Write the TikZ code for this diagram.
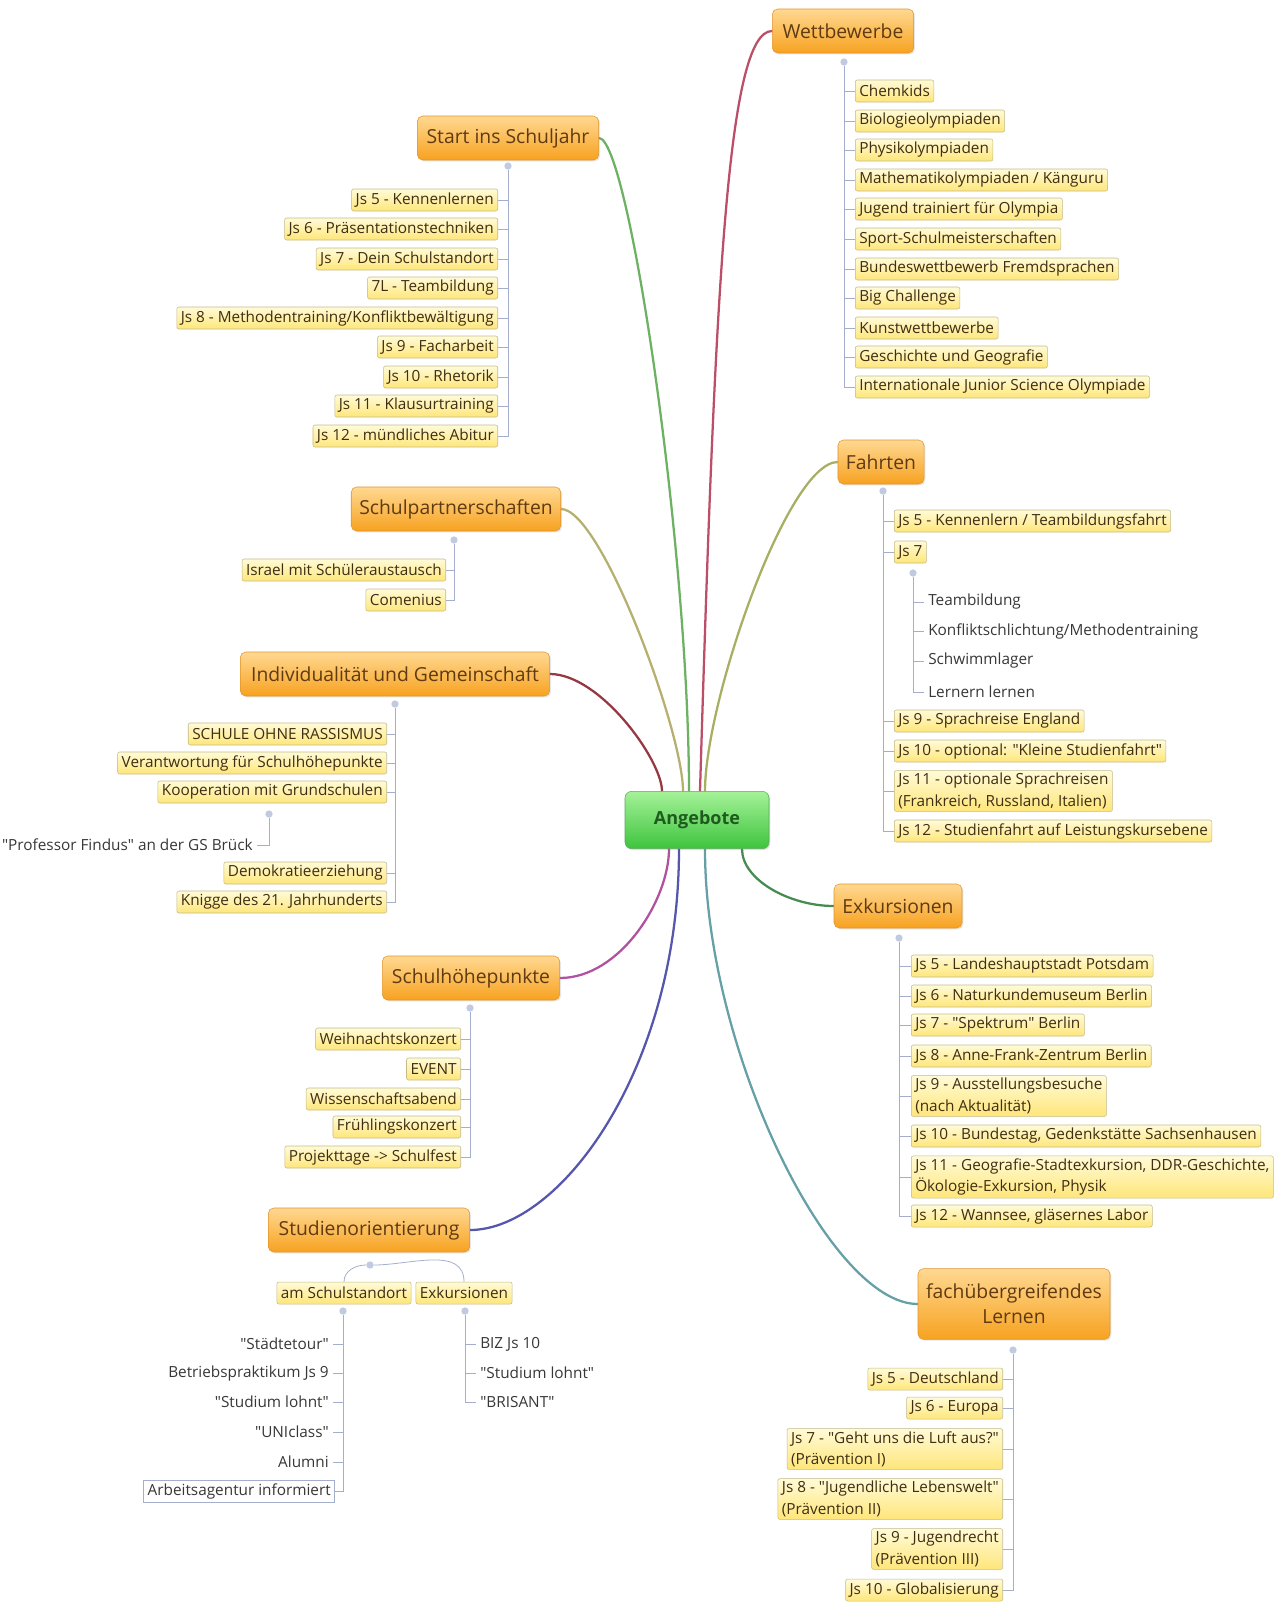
\documentclass[tikz,border=0pt]{standalone}
\usepackage{fontspec}
\setmainfont{Open Sans}
\usepackage{tikz}
\usetikzlibrary{positioning,calc,backgrounds,shadows}

\definecolor{topictop}{RGB}{255,216,145}
\definecolor{topicbot}{RGB}{247,162,32}
\definecolor{topicline}{RGB}{226,148,45}
\definecolor{topictext}{RGB}{95,58,18}
\definecolor{leaftop}{RGB}{255,251,215}
\definecolor{leafbot}{RGB}{255,230,122}
\definecolor{leafline}{RGB}{196,186,138}
\definecolor{leaftext}{RGB}{62,46,20}
\definecolor{notetext}{RGB}{55,55,55}
\definecolor{hubtop}{RGB}{165,242,152}
\definecolor{hubbot}{RGB}{62,196,62}
\definecolor{hubline}{RGB}{90,170,90}
\definecolor{hubtext}{RGB}{30,92,30}
\definecolor{twigc}{RGB}{165,175,205}
\definecolor{knobc}{RGB}{192,202,224}
\definecolor{cwb}{RGB}{188,78,104}
\definecolor{csj}{RGB}{108,178,98}
\definecolor{cfa}{RGB}{168,174,98}
\definecolor{csp}{RGB}{182,176,112}
\definecolor{cig}{RGB}{150,56,66}
\definecolor{cex}{RGB}{70,140,80}
\definecolor{csh}{RGB}{176,82,160}
\definecolor{cso}{RGB}{86,86,172}
\definecolor{cfl}{RGB}{100,160,166}

\begin{document}
\begin{tikzpicture}[
  x=0.75pt, y=0.75pt,
  hub/.style={draw=hubline, rounded corners=5pt, top color=hubtop, bottom color=hubbot,
    text=hubtext, font=\bfseries\fontsize{13.5}{16}\selectfont,
    minimum width=108pt, minimum height=43pt,
    drop shadow={opacity=.25, shadow xshift=1pt, shadow yshift=-1pt}},
  topic/.style={draw=topicline, rounded corners=4pt, top color=topictop, bottom color=topicbot,
    text=topictext, font=\fontsize{14.5}{19}\selectfont, align=center,
    minimum height=33pt, inner xsep=6pt,
    drop shadow={opacity=.2, shadow xshift=1pt, shadow yshift=-1pt}},
  leaf/.style={draw=leafline, rounded corners=1.5pt, top color=leaftop, bottom color=leafbot,
    text=leaftext, font=\fontsize{11.5}{16}\selectfont, align=left,
    minimum height=16.5pt, inner xsep=3pt, inner ysep=2pt},
  note/.style={text=notetext, font=\fontsize{11.5}{16}\selectfont, inner xsep=3pt},
  knob/.style={circle, fill=knobc, inner sep=0pt, minimum size=5.5pt},
  twig/.style={draw=twigc, line width=0.6pt},
  branch/.style={line width=1.7pt, line cap=round},
]
\useasboundingbox (0,0) rectangle (1284,-1604);

\node[hub] (ang) at (697,-820) {Angebote};

% main topics
\node[topic, minimum width=106pt] (wb) at (843,-31)  {Wettbewerbe};
\node[topic, minimum width=136pt] (sj) at (508,-138) {Start ins Schuljahr};
\node[topic, minimum width=64pt]  (fa) at (881,-462) {Fahrten};
\node[topic, minimum width=157pt] (sp) at (456,-509) {Schulpartnerschaften};
\node[topic, minimum width=232pt] (ig) at (395,-674) {Individualität und Gemeinschaft};
\node[topic, minimum width=96pt]  (ex) at (898,-906) {Exkursionen};
\node[topic, minimum width=133pt] (sh) at (471,-978) {Schulhöhepunkte};
\node[topic, minimum width=151pt] (so) at (369,-1230) {Studienorientierung};
\node[topic, minimum width=144pt, minimum height=53pt] (fl) at (1014,-1304) {fachübergreifendes\\Lernen};

% branches from the hub
\begin{scope}[on background layer]
\draw[branch, cwb] ($(ang.north)+(3,0)$) .. controls ($(ang.north)+(18,500)$) and ($(wb.west)+(-45,0)$) .. (wb.west);
\draw[branch, csj] ($(ang.north)+(-8,0)$) .. controls ($(ang.north)+(-8,240)$) and ($(sj.east)+(30,0)$) .. (sj.east);
\draw[branch, cfa] ($(ang.north)+(8,0)$) .. controls ($(ang.north)+(8,90)$) and ($(fa.west)+(-50,0)$) .. (fa.west);
\draw[branch, csp] ($(ang.north)+(-14,0)$) .. controls ($(ang.north)+(-14,60)$) and ($(sp.east)+(40,0)$) .. (sp.east);
\draw[branch, cig] ($(ang.north)+(-35,0)$) .. controls ($(ang.north)+(-35,31)$) and ($(ig.east)+(50,0)$) .. (ig.east);
\draw[branch, cex] ($(ang.south)+(45,0)$) .. controls ($(ang.south)+(45,-31)$) and ($(ex.west)+(-44,0)$) .. (ex.west);
\draw[branch, csh] ($(ang.south)+(-28,0)$) .. controls ($(ang.south)+(-28,-51)$) and ($(sh.east)+(60,0)$) .. (sh.east);
\draw[branch, cso] ($(ang.south)+(-18,0)$) .. controls ($(ang.south)+(-18,-220)$) and ($(so.east)+(90,0)$) .. (so.east);
\draw[branch, cfl] ($(ang.south)+(8,0)$) .. controls ($(ang.south)+(8,-200)$) and ($(fl.west)+(-88,0)$) .. (fl.west);
\end{scope}

% Wettbewerbe
\node[knob] (wbK) at (844,-62) {};
\node[leaf, anchor=west] (wb1)  at (855,-91)  {Chemkids};
\node[leaf, anchor=west] (wb2)  at (855,-121) {Biologieolympiaden};
\node[leaf, anchor=west] (wb3)  at (855,-150) {Physikolympiaden};
\node[leaf, anchor=west] (wb4)  at (855,-180) {Mathematikolympiaden / Känguru};
\node[leaf, anchor=west] (wb5)  at (855,-209) {Jugend trainiert für Olympia};
\node[leaf, anchor=west] (wb6)  at (855,-239) {Sport-Schulmeisterschaften};
\node[leaf, anchor=west] (wb7)  at (855,-269) {Bundeswettbewerb Fremdsprachen};
\node[leaf, anchor=west] (wb8)  at (855,-298) {Big Challenge};
\node[leaf, anchor=west] (wb9)  at (855,-328) {Kunstwettbewerbe};
\node[leaf, anchor=west] (wb10) at (855,-357) {Geschichte und Geografie};
\node[leaf, anchor=west] (wb11) at (855,-387) {Internationale Junior Science Olympiade};
\draw[twig] (wbK) |- (wb1.west) (wbK) |- (wb2.west) (wbK) |- (wb3.west) (wbK) |- (wb4.west)
  (wbK) |- (wb5.west) (wbK) |- (wb6.west) (wbK) |- (wb7.west) (wbK) |- (wb8.west)
  (wbK) |- (wb9.west) (wbK) |- (wb10.west) (wbK) |- (wb11.west);

% Start ins Schuljahr
\node[knob] (sjK) at (508,-166) {};
\node[leaf, anchor=east] (sj1) at (498,-200) {Js 5 - Kennenlernen};
\node[leaf, anchor=east] (sj2) at (498,-229) {Js 6 - Präsentationstechniken};
\node[leaf, anchor=east] (sj3) at (498,-259) {Js 7 - Dein Schulstandort};
\node[leaf, anchor=east] (sj4) at (498,-288) {7L - Teambildung};
\node[leaf, anchor=east] (sj5) at (498,-318) {Js 8 - Methodentraining/Konfliktbewältigung};
\node[leaf, anchor=east] (sj6) at (498,-347) {Js 9 - Facharbeit};
\node[leaf, anchor=east] (sj7) at (498,-377) {Js 10 - Rhetorik};
\node[leaf, anchor=east] (sj8) at (498,-406) {Js 11 - Klausurtraining};
\node[leaf, anchor=east] (sj9) at (498,-436) {Js 12 - mündliches Abitur};
\draw[twig] (sjK) |- (sj1.east) (sjK) |- (sj2.east) (sjK) |- (sj3.east) (sjK) |- (sj4.east)
  (sjK) |- (sj5.east) (sjK) |- (sj6.east) (sjK) |- (sj7.east) (sjK) |- (sj8.east) (sjK) |- (sj9.east);

% Fahrten
\node[knob] (faK) at (883,-491) {};
\node[leaf, anchor=west] (fa1) at (894,-521) {Js 5 - Kennenlern / Teambildungsfahrt};
\node[leaf, anchor=west] (fa2) at (894,-552) {Js 7};
\node[knob] (fa2K) at (913,-573) {};
\node[note, anchor=west] (fa2a) at (924,-602) {Teambildung};
\node[note, anchor=west] (fa2b) at (924,-631) {Konfliktschlichtung/Methodentraining};
\node[note, anchor=west] (fa2c) at (924,-661) {Schwimmlager};
\node[note, anchor=west] (fa2d) at (924,-692) {Lernern lernen};
\node[leaf, anchor=west] (fa3) at (894,-721) {Js 9 - Sprachreise England};
\node[leaf, anchor=west] (fa4) at (894,-751) {Js 10 - optional: \textquotedbl Kleine Studienfahrt\textquotedbl};
\node[leaf, anchor=west] (fa5) at (894,-791) {Js 11 - optionale Sprachreisen\\(Frankreich, Russland, Italien)};
\node[leaf, anchor=west] (fa6) at (894,-831) {Js 12 - Studienfahrt auf Leistungskursebene};
\draw[twig] (faK) |- (fa1.west) (faK) |- (fa2.west) (faK) |- (fa3.west) (faK) |- (fa4.west)
  (faK) |- (fa5.west) (faK) |- (fa6.west);
\draw[twig] (fa2K) |- (fa2a.west) (fa2K) |- (fa2b.west) (fa2K) |- (fa2c.west) (fa2K) |- (fa2d.west);

% Schulpartnerschaften
\node[knob] (spK) at (454,-540) {};
\node[leaf, anchor=east] (sp1) at (446,-570) {Israel mit Schüleraustausch};
\node[leaf, anchor=east] (sp2) at (446,-600) {Comenius};
\draw[twig] (spK) |- (sp1.east) (spK) |- (sp2.east);

% Individualitaet und Gemeinschaft
\node[knob] (igK) at (395,-704) {};
\node[leaf, anchor=east] (ig1) at (387,-734) {SCHULE OHNE RASSISMUS};
\node[leaf, anchor=east] (ig2) at (387,-763) {Verantwortung für Schulhöhepunkte};
\node[leaf, anchor=east] (ig3) at (387,-792) {Kooperation mit Grundschulen};
\node[knob] (ig3K) at (269,-814) {};
\node[note, anchor=east] (ig3a) at (257,-845) {\textquotedbl Professor Findus\textquotedbl{} an der GS Brück};
\node[leaf, anchor=east] (ig4) at (387,-873) {Demokratieerziehung};
\node[leaf, anchor=east] (ig5) at (387,-902) {Knigge des 21. Jahrhunderts};
\draw[twig] (igK) |- (ig1.east) (igK) |- (ig2.east) (igK) |- (ig3.east) (igK) |- (ig4.east) (igK) |- (ig5.east);
\draw[twig] (ig3K) |- (ig3a.east);

% Exkursionen
\node[knob] (exK) at (899,-938) {};
\node[leaf, anchor=west] (ex1) at (911,-966)  {Js 5 - Landeshauptstadt Potsdam};
\node[leaf, anchor=west] (ex2) at (911,-996)  {Js 6 - Naturkundemuseum Berlin};
\node[leaf, anchor=west] (ex3) at (911,-1025) {Js 7 - \textquotedbl Spektrum\textquotedbl{} Berlin};
\node[leaf, anchor=west] (ex4) at (911,-1056) {Js 8 - Anne-Frank-Zentrum Berlin};
\node[leaf, anchor=west] (ex5) at (911,-1096) {Js 9 - Ausstellungsbesuche\\(nach Aktualität)};
\node[leaf, anchor=west] (ex6) at (911,-1136) {Js 10 - Bundestag, Gedenkstätte Sachsenhausen};
\node[leaf, anchor=west] (ex7) at (911,-1177) {Js 11 - Geografie-Stadtexkursion, DDR-Geschichte,\\Ökologie-Exkursion, Physik};
\node[leaf, anchor=west] (ex8) at (911,-1216) {Js 12 - Wannsee, gläsernes Labor};
\draw[twig] (exK) |- (ex1.west) (exK) |- (ex2.west) (exK) |- (ex3.west) (exK) |- (ex4.west)
  (exK) |- (ex5.west) (exK) |- (ex6.west) (exK) |- (ex7.west) (exK) |- (ex8.west);

% Schulhoehepunkte
\node[knob] (shK) at (470,-1008) {};
\node[leaf, anchor=east] (sh1) at (461,-1039) {Weihnachtskonzert};
\node[leaf, anchor=east] (sh2) at (461,-1069) {EVENT};
\node[leaf, anchor=east] (sh3) at (461,-1099) {Wissenschaftsabend};
\node[leaf, anchor=east] (sh4) at (461,-1127) {Frühlingskonzert};
\node[leaf, anchor=east] (sh5) at (461,-1157) {Projekttage -> Schulfest};
\draw[twig] (shK) |- (sh1.east) (shK) |- (sh2.east) (shK) |- (sh3.east) (shK) |- (sh4.east) (shK) |- (sh5.east);

% Studienorientierung
\node[knob] (soK) at (370,-1265) {};
\node[leaf] (so1) at (344,-1293) {am Schulstandort};
\node[leaf] (so2) at (464,-1293) {Exkursionen};
\draw[twig] (soK) to[out=180, in=90] (so1.north) (soK) to[out=0, in=90] (so2.north);
\node[knob] (so1K) at (343,-1311) {};
\node[note, anchor=east] (so1a) at (333,-1344) {\textquotedbl Städtetour\textquotedbl};
\node[note, anchor=east] (so1b) at (333,-1373) {Betriebspraktikum Js 9};
\node[note, anchor=east] (so1c) at (333,-1402) {\textquotedbl Studium lohnt\textquotedbl};
\node[note, anchor=east] (so1d) at (333,-1432) {\textquotedbl UNIclass\textquotedbl};
\node[note, anchor=east] (so1e) at (333,-1462) {Alumni};
\node[note, draw=twigc, fill=white, anchor=east, minimum height=16.5pt, inner ysep=1pt] (so1f) at (335,-1491) {Arbeitsagentur informiert};
\draw[twig] (so1K) |- (so1a.east) (so1K) |- (so1b.east) (so1K) |- (so1c.east) (so1K) |- (so1d.east)
  (so1K) |- (so1e.east) (so1K) |- (so1f.east);
\node[knob] (so2K) at (465,-1311) {};
\node[note, anchor=west] (so2a) at (476,-1344) {BIZ Js 10};
\node[note, anchor=west] (so2b) at (476,-1373) {\textquotedbl Studium lohnt\textquotedbl};
\node[note, anchor=west] (so2c) at (476,-1402) {\textquotedbl BRISANT\textquotedbl};
\draw[twig] (so2K) |- (so2a.west) (so2K) |- (so2b.west) (so2K) |- (so2c.west);

% fachuebergreifendes Lernen
\node[knob] (flK) at (1013,-1350) {};
\node[leaf, anchor=east] (fl1) at (1003,-1379) {Js 5 - Deutschland};
\node[leaf, anchor=east] (fl2) at (1003,-1408) {Js 6 - Europa};
\node[leaf, anchor=east] (fl3) at (1003,-1449) {Js 7 - \textquotedbl Geht uns die Luft aus?\textquotedbl\\(Prävention I)};
\node[leaf, anchor=east] (fl4) at (1003,-1499) {Js 8 - \textquotedbl Jugendliche Lebenswelt\textquotedbl\\(Prävention II)};
\node[leaf, anchor=east] (fl5) at (1003,-1549) {Js 9 - Jugendrecht\\(Prävention III)};
\node[leaf, anchor=east] (fl6) at (1003,-1590) {Js 10 - Globalisierung};
\draw[twig] (flK) |- (fl1.east) (flK) |- (fl2.east) (flK) |- (fl3.east) (flK) |- (fl4.east)
  (flK) |- (fl5.east) (flK) |- (fl6.east);
\end{tikzpicture}
\end{document}
